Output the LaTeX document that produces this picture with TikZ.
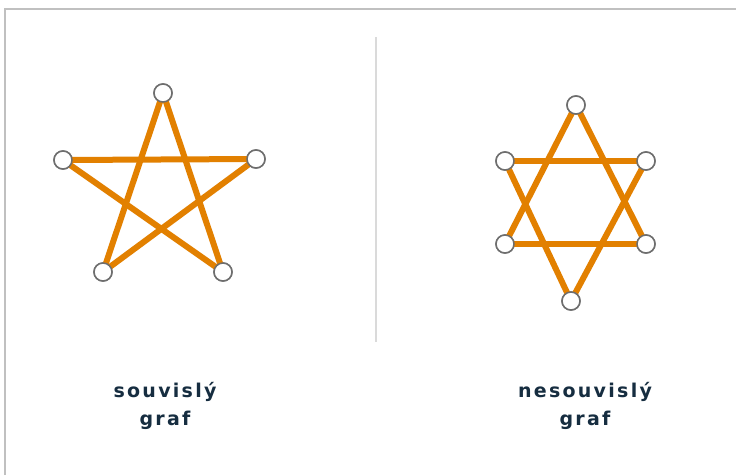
\documentclass[tikz,border=0pt]{standalone}
\usepackage{fontspec}
\newfontfamily\labelfont[LetterSpace=12]{DejaVu Sans Bold}
\definecolor{edgeorange}{RGB}{226,128,0}
\definecolor{ringgray}{RGB}{110,110,110}
\definecolor{framegray}{RGB}{192,192,192}
\definecolor{divgray}{RGB}{218,218,218}
\definecolor{labelblue}{RGB}{22,45,64}
\begin{document}
\begin{tikzpicture}[x=1pt,y=-1pt,
  vertex/.style={circle,draw=ringgray,fill=white,line width=1.5pt,minimum size=18pt,inner sep=0pt},
  edge/.style={draw=edgeorange,line width=6pt},
  caption/.style={font=\labelfont\fontsize{19}{28}\selectfont,text=labelblue,align=center}]
\useasboundingbox (0,0) rectangle (736,475);
\fill[white] (0,0) rectangle (736,475);
\draw[framegray,line width=1.6pt] (5,475) -- (5,9) -- (736,9);
\draw[divgray,line width=2pt] (376,37) -- (376,342);
% pentagram
\node[vertex] (p1) at (163,93) {};
\node[vertex] (p2) at (63,160) {};
\node[vertex] (p3) at (256,159) {};
\node[vertex] (p4) at (103,272) {};
\node[vertex] (p5) at (223,272) {};
% hexagram
\node[vertex] (h1) at (576,105) {};
\node[vertex] (h2) at (505,161) {};
\node[vertex] (h3) at (646,161) {};
\node[vertex] (h4) at (505,244) {};
\node[vertex] (h5) at (646,244) {};
\node[vertex] (h6) at (571,301) {};
% edges drawn, then vertices redrawn on top
\path[edge] (p1.center) -- (p4.center);
\path[edge] (p1.center) -- (p5.center);
\path[edge] (p2.center) -- (p3.center);
\path[edge] (p2.center) -- (p5.center);
\path[edge] (p3.center) -- (p4.center);
\path[edge] (h1.center) -- (h4.center);
\path[edge] (h1.center) -- (h5.center);
\path[edge] (h2.center) -- (h3.center);
\path[edge] (h4.center) -- (h5.center);
\path[edge] (h2.center) -- (h6.center);
\path[edge] (h3.center) -- (h6.center);
\foreach \v in {p1,p2,p3,p4,p5,h1,h2,h3,h4,h5,h6}
  \node[vertex] at (\v.center) {};
\node[caption] (c1) at (165,406) {souvislý\\graf};
\node[caption] (c2) at (585,406) {nesouvislý\\graf};
\end{tikzpicture}
\end{document}
